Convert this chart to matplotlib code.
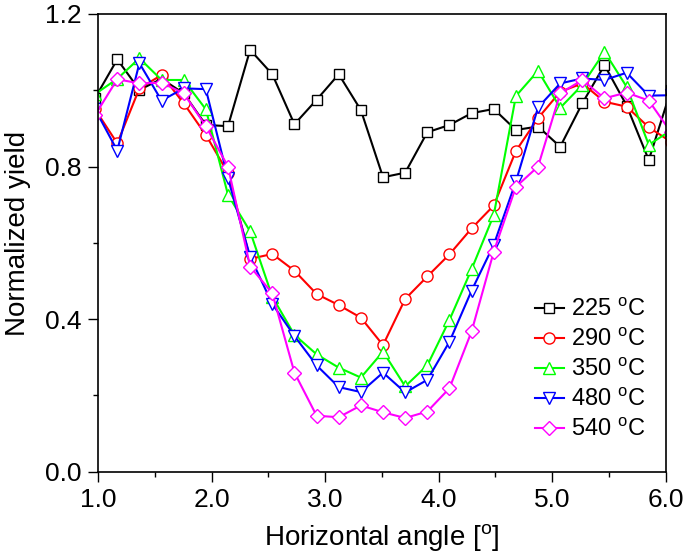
import numpy as np
import matplotlib
matplotlib.use("Agg")
import matplotlib.pyplot as plt
from matplotlib.ticker import MultipleLocator

plt.rcParams['font.family'] = ['Liberation Sans', 'DejaVu Sans']
plt.rcParams['mathtext.fontset'] = 'custom'
plt.rcParams['mathtext.rm'] = 'Liberation Sans'

# =========================
# data
# =========================
angle = [0.975, 1.17, 1.365, 1.56, 1.755, 1.95, 2.145, 2.34, 2.535, 2.73,
         2.925, 3.12, 3.315, 3.51, 3.705, 3.9, 4.095, 4.29, 4.485, 4.68,
         4.875, 5.07, 5.265, 5.46, 5.655, 5.85, 6.045]

y_225 = [0.98, 1.081, 1.001, 1.03, 0.992, 0.909, 0.906, 1.106, 1.042, 0.911,
         0.975, 1.042, 0.948, 0.772, 0.784, 0.890, 0.909, 0.940, 0.951, 0.896,
         0.905, 0.852, 0.966, 1.066, 0.96, 0.817, 1.0]
y_290 = [0.95, 0.861, 1.005, 1.040, 0.966, 0.883, 0.783, 0.558, 0.571, 0.527,
         0.466, 0.437, 0.404, 0.332, 0.453, 0.512, 0.570, 0.638, 0.698, 0.841,
         0.927, 0.996, 1.018, 0.970, 0.957, 0.903, 0.865]
y_350 = [0.99, 1.03, 1.084, 1.027, 1.027, 0.950, 0.726, 0.630, 0.459, 0.359,
         0.308, 0.273, 0.247, 0.315, 0.224, 0.279, 0.398, 0.531, 0.673, 0.985,
         1.051, 0.954, 1.014, 1.101, 1.009, 0.857, 0.895]
y_480 = [0.95, 0.842, 1.071, 0.973, 1.005, 1.003, 0.769, 0.564, 0.440, 0.356,
         0.279, 0.222, 0.209, 0.260, 0.208, 0.241, 0.341, 0.475, 0.595, 0.761,
         0.955, 1.018, 1.031, 1.027, 1.046, 0.986, 0.987]
y_540 = [0.935, 1.029, 1.018, 1.020, 0.992, 0.906, 0.800, 0.538, 0.468, 0.260,
         0.147, 0.143, 0.174, 0.156, 0.141, 0.158, 0.219, 0.368, 0.577, 0.747,
         0.800, 0.992, 1.027, 0.979, 0.994, 0.973, 0.89]

series = [
    ('225 $^\\mathrm{o}$C', y_225, 'black', 's', 7.5),
    ('290 $^\\mathrm{o}$C', y_290, '#ff0000', 'o', 8),
    ('350 $^\\mathrm{o}$C', y_350, '#00ff00', '^', 9),
    ('480 $^\\mathrm{o}$C', y_480, '#0000ff', 'v', 9),
    ('540 $^\\mathrm{o}$C', y_540, '#ff00ff', 'D', 7),
]

# =========================
# plot
# =========================
fig = plt.figure(figsize=(6.85, 5.59), dpi=100)
ax = fig.add_axes([0.143, 0.156, 0.829, 0.819])

for label, yv, col, mk, ms in series:
    ax.plot(angle, yv, color=col, lw=1.5, marker=mk, ms=ms,
            mfc='white', mec=col, mew=1.0, label=label)

ax.set_xlim(1.0, 6.0)
ax.set_ylim(0.0, 1.2)
ax.xaxis.set_major_locator(MultipleLocator(1.0))
ax.xaxis.set_minor_locator(MultipleLocator(0.5))
ax.yaxis.set_major_locator(MultipleLocator(0.4))
ax.yaxis.set_minor_locator(MultipleLocator(0.2))
ax.xaxis.set_major_formatter(matplotlib.ticker.FormatStrFormatter('%.1f'))
ax.yaxis.set_major_formatter(matplotlib.ticker.FormatStrFormatter('%.1f'))

ax.tick_params(which='major', direction='out', length=7, width=1.0, pad=5,
               labelsize=19, top=False, right=False)
ax.tick_params(which='minor', direction='out', length=3.5, width=1.0,
               top=False, right=False)
for s in ax.spines.values():
    s.set_linewidth(1.2)

ax.set_xlabel('Horizontal angle [$^\\mathrm{o}$]', fontsize=20, labelpad=7)
ax.set_ylabel('Normalized yield', fontsize=20)
ax.yaxis.set_label_coords(-0.118, 0.52)

ax.legend(loc='center left', bbox_to_anchor=(0.77, 0.2235), frameon=False,
          fontsize=17, handlelength=1.2, handletextpad=0.3, labelspacing=0.3,
          borderpad=0, borderaxespad=0)

fig.savefig('out.png', dpi=100)
